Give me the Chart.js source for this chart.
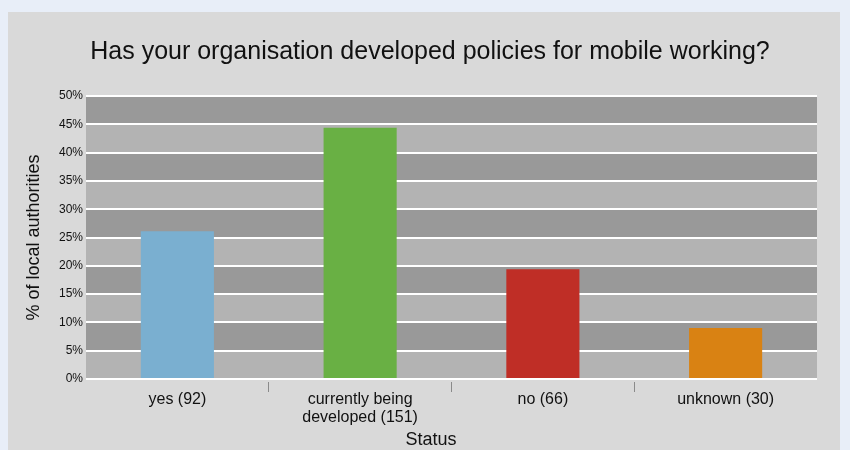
<!DOCTYPE html>
<html>
<head>
<meta charset="utf-8">
<script src="https://cdn.jsdelivr.net/npm/chart.js@4"></script>
<style>
  html, body { margin: 0; padding: 0; background: #e8eef8; }
  #panel { position: absolute; left: 8px; top: 12px; width: 832px; height: 438px; background: #d9d9d9; }
  #wrap { position: absolute; left: 0; top: 0; width: 850px; height: 450px; }
</style>
</head>
<body>
<div id="panel"></div>
<div id="wrap"><canvas id="chart"></canvas></div>
<script>
var chartTitle = "Has your organisation developed policies for mobile working?"
var categories = [["yes (92)"], ["currently being", "developed (151)"], ["no (66)"], ["unknown (30)"]]
var percentages = [26.1, 44.4, 19.4, 9.0]
var barColours = ["#7aafd0", "#69b044", "#bf2e26", "#d98213"]
var yTicks = [0, 5, 10, 15, 20, 25, 30, 35, 40, 45, 50]

var FONT = "'Liberation Sans', Arial, sans-serif"

// alternating grey bands behind the grid, one per tick interval
var bandsPlugin = {
  id: "bands",
  beforeDraw: function (chart) {
    var ctx = chart.ctx
    var area = chart.chartArea
    var y = chart.scales.y
    ctx.save()
    for (var i = 0; i < yTicks.length - 1; i++) {
      var top = y.getPixelForValue(yTicks[i + 1])
      var bottom = y.getPixelForValue(yTicks[i])
      ctx.fillStyle = (i % 2 == 0) ? "#b3b3b3" : "#999999"
      ctx.fillRect(area.left, top, area.right - area.left, bottom - top)
    }
    ctx.restore()
  }
}

// chart title and x axis title, centred on the panel rather than the plot
var textPlugin = {
  id: "panelText",
  afterDraw: function (chart) {
    var ctx = chart.ctx
    ctx.save()
    ctx.fillStyle = "#111111"
    ctx.textAlign = "center"
    ctx.textBaseline = "middle"
    ctx.font = "25px " + FONT
    ctx.fillText(chartTitle, 430, 52)
    ctx.font = "18px " + FONT
    ctx.fillText("Status", 431, 440)
    ctx.restore()
  }
}

var myChart = new Chart(document.getElementById("chart"), {
  type: "bar",
  data: {
    labels: categories,
    datasets: [{
      label: "% of local authorities",
      data: percentages,
      backgroundColor: barColours,
      borderWidth: 0,
      barPercentage: 0.4,
      categoryPercentage: 1
    }]
  },
  options: {
    responsive: true,
    maintainAspectRatio: false,
    animation: false,
    layout: { padding: { left: 10, right: 33, top: 96, bottom: 0 } },
    plugins: {
      legend: { display: false },
      title: { display: false },
      tooltip: { enabled: false }
    },
    scales: {
      x: {
        afterFit: function (scale) { scale.height = 71 },
        grid: {
          offset: true,
          drawOnChartArea: false,
          tickLength: 13,
          lineWidth: 1,
          color: function (c) { return (c.index > 0 && c.index < categories.length) ? "#8a8a8a" : "rgba(0,0,0,0)" }
        },
        border: { display: true, width: 5, color: "rgba(0,0,0,0)" },
        ticks: {
          color: "#111111",
          padding: -1,
          maxRotation: 0,
          autoSkip: false,
          font: { family: FONT, size: 16, lineHeight: 1.125 }
        }
      },
      y: {
        min: 0,
        max: 50,
        afterFit: function (scale) { scale.width = 76 },
        grid: { color: "#ffffff", lineWidth: 2, drawTicks: false },
        border: { display: false },
        ticks: {
          stepSize: 5,
          padding: 3,
          color: "#111111",
          font: { family: FONT, size: 12 },
          callback: function (v) { return v + "%" }
        },
        title: {
          display: true,
          text: "% of local authorities",
          color: "#111111",
          padding: { top: 13, bottom: 0 },
          font: { family: FONT, size: 18, lineHeight: 1.2 }
        }
      }
    }
  },
  plugins: [bandsPlugin, textPlugin]
})
</script>
</body>
</html>
